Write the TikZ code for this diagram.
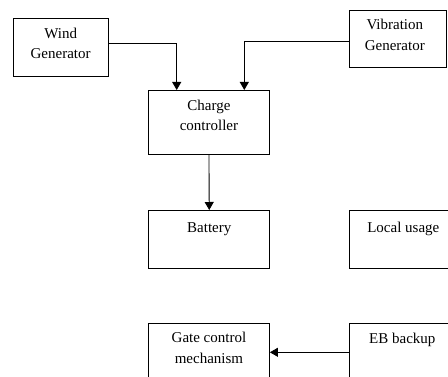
\documentclass[tikz,border=0pt]{standalone}
\usepackage{fontspec}
\setmainfont{Liberation Serif}
\usetikzlibrary{arrows.meta,calc}
\begin{document}
\begin{tikzpicture}[x=1pt,y=-1pt,
 box/.style={draw,line width=0.9pt,inner sep=0,anchor=north west},
 txt/.style={font=\fontsize{15}{20.5}\selectfont,align=center,anchor=base,inner sep=0},
 arr/.style={line width=0.9pt,-{Triangle[length=8pt,width=9pt]}}]
\useasboundingbox (0,0) rectangle (448,377);
\clip (0,0) rectangle (448,377);
\node[box,minimum width=95,minimum height=57.7] (wind) at (12.7,18.3) {};
\node[txt] (windt) at ($(wind.north)+(0,40.5)$) {Wind\\Generator};
\node[box,minimum width=96.7,minimum height=56.7] (vib) at (349,10) {};
\node[txt] (vibt) at ($(vib.north)+(-3,40.5)$) {Vibration\\Generator};
\node[box,minimum width=121,minimum height=64.3] (charge) at (148,90) {};
\node[txt] (charget) at ($(charge.north)+(0,41)$) {Charge\\controller};
\node[box,minimum width=121,minimum height=58.3] (battery) at (148.3,210) {};
\node[txt] (batteryt) at ($(battery.north)+(0,23)$) {Battery};
\node[box,minimum width=108,minimum height=58.3] (local) at (349.3,210) {};
\node[txt] (localt) at ($(local.north west)+(54,23)$) {Local usage};
\node[box,minimum width=121,minimum height=70] (gate) at (148,322.7) {};
\node[txt] (gatet) at ($(gate.north)+(0,40.5)$) {Gate control\\mechanism};
\node[box,minimum width=108,minimum height=70] (eb) at (349.3,322.7) {};
\node[txt] (ebt) at ($(eb.north west)+(53,20.6)$) {EB backup};
\draw[arr] ($(wind.north east)+(0,25)$) -| ($(charge.north west)+(28.7,0)$);
\draw[arr] ($(vib.north west)+(0,31.3)$) -| ($(charge.north west)+(96.3,0)$);
\draw[arr] (charge.south) -- (battery.north);
\draw[arr] ($(eb.north west)+(0,29.6)$) -- ($(gate.north east)+(0,29.6)$);
\end{tikzpicture}
\end{document}
